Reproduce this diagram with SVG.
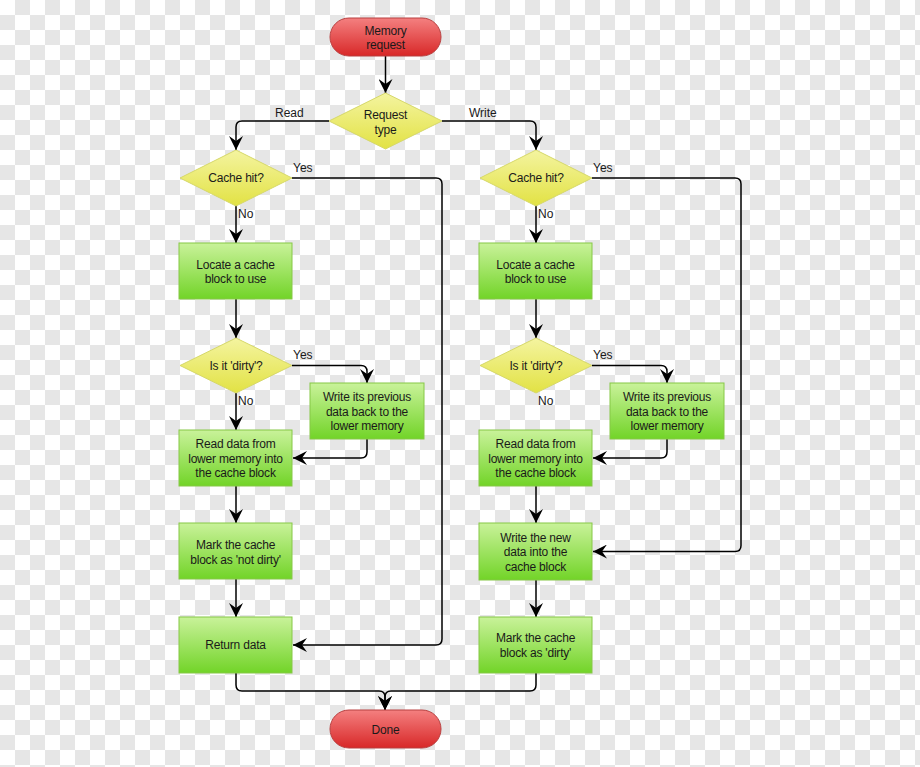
<svg xmlns="http://www.w3.org/2000/svg" width="920" height="767" viewBox="0 0 920 767">
<style>
.t{font-family:"Liberation Sans",Arial,sans-serif;font-size:12px;fill:#1a1a1a;text-anchor:middle;letter-spacing:-0.2px}
.l{font-family:"Liberation Sans",Arial,sans-serif;font-size:12px;fill:#1a1a1a}
.box{fill:url(#gG);stroke:#86c846;stroke-width:1}
.dia{fill:url(#gY);stroke:#d6d86a;stroke-width:1}
.pill{fill:url(#gR);stroke:#b84040;stroke-width:1}
.c{fill:none;stroke:#000;stroke-width:1.5}
.c.a{marker-end:url(#arr)}
</style>
<defs>
<pattern id="chk" width="30" height="30" patternUnits="userSpaceOnUse">
<rect width="30" height="30" fill="#ffffff"/>
<rect x="15" y="0" width="15" height="15" fill="#e6e6e6"/>
<rect x="0" y="15" width="15" height="15" fill="#e6e6e6"/>
</pattern>
<linearGradient id="gG" x1="0" y1="0" x2="0" y2="1">
<stop offset="0" stop-color="#c9f29a"/>
<stop offset="1" stop-color="#72d428"/>
</linearGradient>
<linearGradient id="gY" x1="0" y1="0" x2="0" y2="1">
<stop offset="0" stop-color="#f4f4a0"/>
<stop offset="1" stop-color="#e2e244"/>
</linearGradient>
<linearGradient id="gR" x1="0" y1="0" x2="0" y2="1">
<stop offset="0" stop-color="#f48080"/>
<stop offset="1" stop-color="#d82828"/>
</linearGradient>
<marker id="arr" markerUnits="userSpaceOnUse" markerWidth="14" markerHeight="14" refX="14" refY="7" orient="auto">
<path d="M0,0 L14,7 L0,14 L5,7 z" fill="#000"/>
</marker>
</defs>
<rect width="920" height="767" fill="url(#chk)"/>

<g id="connectors">
<path class="c a" d="M385.5,56 V93"/>
<path class="c a" d="M329,121 H242 Q236,121 236,127 V150"/>
<path class="c a" d="M442,121 H530 Q536,121 536,127 V150"/>
<path class="c a" d="M292,178 H436 Q442,178 442,184 V639 Q442,645 436,645 H293"/>
<path class="c a" d="M236,205 V243"/>
<path class="c a" d="M236,299 V338"/>
<path class="c a" d="M292,365.5 H361 Q367,365.5 367,371.5 V383"/>
<path class="c a" d="M367,439 V452 Q367,458 361,458 H293"/>
<path class="c a" d="M236,393 V430"/>
<path class="c a" d="M236,486 V523"/>
<path class="c a" d="M236,579 V617"/>
<path class="c a" d="M236,673 V685 Q236,691 242,691 H379 Q385,691 385,697 V710"/>
<path class="c a" d="M592,178 H735 Q741,178 741,184 V545.5 Q741,551.5 735,551.5 H593"/>
<path class="c a" d="M536,205 V243"/>
<path class="c a" d="M536,299 V338"/>
<path class="c a" d="M592,365.5 H661 Q667,365.5 667,371.5 V383"/>
<path class="c a" d="M667,439 V452 Q667,458 661,458 H593"/>
<path class="c a" d="M536,486 V523"/>
<path class="c a" d="M536,580 V617"/>
<path class="c a" d="M536,673 V685 Q536,691 530,691 H391 Q385,691 385,697 V710"/>
<text class="l" x="275" y="117">Read</text>
<text class="l" x="469" y="117">Write</text>
<text class="l" x="293" y="172">Yes</text>
<text class="l" x="238" y="218">No</text>
<text class="l" x="293" y="359">Yes</text>
<text class="l" x="238" y="405">No</text>
<text class="l" x="593" y="172">Yes</text>
<text class="l" x="538" y="218">No</text>
<text class="l" x="593" y="359">Yes</text>
<text class="l" x="538" y="405">No</text>
</g>

<g id="memory-request">
<rect class="pill" x="330" y="18" width="111" height="38" rx="19"/>
<text class="t" x="385.5" y="35">Memory</text>
<text class="t" x="385.5" y="49">request</text>
</g>
<g id="request-type">
<polygon class="dia" points="385.5,93 442,121 385.5,149 329,121"/>
<text class="t" x="385.5" y="119">Request</text>
<text class="t" x="385.5" y="134">type</text>
</g>

<g id="r-cache-hit">
<polygon class="dia" points="236,150 292,178 236,206 180,178"/>
<text class="t" x="236" y="182">Cache hit?</text>
</g>
<g id="r-locate">
<rect class="box" x="179" y="243" width="113" height="56"/>
<text class="t" x="235.5" y="269">Locate a cache</text>
<text class="t" x="235.5" y="283">block to use</text>
</g>
<g id="r-dirty">
<polygon class="dia" points="236,338 292,365.5 236,393 180,365.5"/>
<text class="t" x="236" y="370">Is it 'dirty'?</text>
</g>
<g id="r-writeback">
<rect class="box" x="310" y="383" width="114" height="56"/>
<text class="t" x="367" y="401">Write its previous</text>
<text class="t" x="367" y="416">data back to the</text>
<text class="t" x="367" y="430">lower memory</text>
</g>
<g id="r-read">
<rect class="box" x="179" y="430" width="113" height="56"/>
<text class="t" x="235.5" y="448">Read data from</text>
<text class="t" x="235.5" y="463">lower memory into</text>
<text class="t" x="235.5" y="477">the cache block</text>
</g>
<g id="r-mark">
<rect class="box" x="179" y="523" width="113" height="56"/>
<text class="t" x="235.5" y="549">Mark the cache</text>
<text class="t" x="235.5" y="564">block as 'not dirty'</text>
</g>
<g id="r-return">
<rect class="box" x="179" y="617" width="113" height="56"/>
<text class="t" x="235.5" y="649">Return data</text>
</g>

<g id="w-cache-hit">
<polygon class="dia" points="536,150 592,178 536,206 480,178"/>
<text class="t" x="536" y="182">Cache hit?</text>
</g>
<g id="w-locate">
<rect class="box" x="479" y="243" width="113" height="56"/>
<text class="t" x="535.5" y="269">Locate a cache</text>
<text class="t" x="535.5" y="283">block to use</text>
</g>
<g id="w-dirty">
<polygon class="dia" points="536,338 592,365.5 536,393 480,365.5"/>
<text class="t" x="536" y="370">Is it 'dirty'?</text>
</g>
<g id="w-writeback">
<rect class="box" x="610" y="383" width="114" height="56"/>
<text class="t" x="667" y="401">Write its previous</text>
<text class="t" x="667" y="416">data back to the</text>
<text class="t" x="667" y="430">lower memory</text>
</g>
<g id="w-read">
<rect class="box" x="479" y="430" width="113" height="56"/>
<text class="t" x="535.5" y="448">Read data from</text>
<text class="t" x="535.5" y="463">lower memory into</text>
<text class="t" x="535.5" y="477">the cache block</text>
</g>
<g id="w-write-new">
<rect class="box" x="479" y="523" width="113" height="57"/>
<text class="t" x="535.5" y="542">Write the new</text>
<text class="t" x="535.5" y="556">data into the</text>
<text class="t" x="535.5" y="571">cache block</text>
</g>
<g id="w-mark">
<rect class="box" x="479" y="617" width="113" height="56"/>
<text class="t" x="535.5" y="642">Mark the cache</text>
<text class="t" x="535.5" y="657">block as 'dirty'</text>
</g>

<g id="done">
<rect class="pill" x="330" y="710" width="111" height="38" rx="19"/>
<text class="t" x="385.5" y="734">Done</text>
</g>
</svg>
